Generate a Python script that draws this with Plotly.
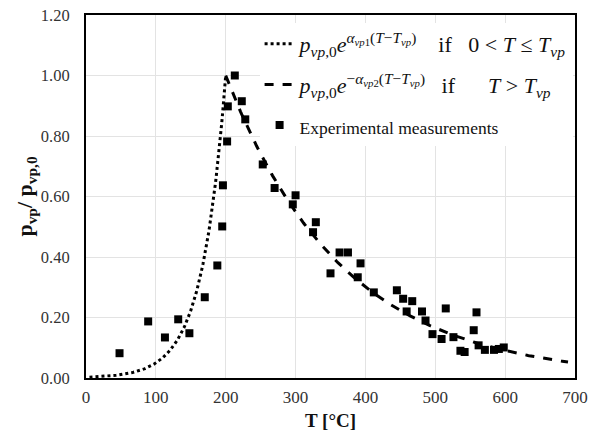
import numpy as np
import plotly.graph_objects as go

# Experimental measurements (T in °C, normalized p_vp/p_vp,0)
exp_T = [48, 89, 113, 132, 148, 170, 188, 195, 196, 202, 203, 213, 223, 228,
         253, 270, 296, 300, 325, 329, 350, 363, 375, 389, 393, 412, 445, 454,
         459, 467, 481, 486, 496, 509, 515, 526, 536, 542, 555, 559, 562, 571,
         584, 591, 598]
exp_P = [0.082, 0.187, 0.134, 0.194, 0.148, 0.267, 0.372, 0.501, 0.637, 0.782,
         0.898, 1.00, 0.915, 0.855, 0.706, 0.628, 0.574, 0.604, 0.482, 0.515,
         0.346, 0.415, 0.415, 0.333, 0.379, 0.283, 0.290, 0.262, 0.220, 0.254,
         0.220, 0.190, 0.145, 0.129, 0.230, 0.135, 0.090, 0.086, 0.158, 0.217,
         0.108, 0.093, 0.093, 0.096, 0.101]

# Model parameters
T_vp = 200.0
alpha_vp1 = 0.030
alpha_vp2 = 0.006

x_ticks = [0, 100, 200, 300, 400, 500, 600, 700]
y_ticks = [0.0, 0.2, 0.4, 0.6, 0.8, 1.0, 1.2]

T1 = np.linspace(5, T_vp, 200)
P1 = np.exp(alpha_vp1 * (T1 - T_vp))
T2 = np.linspace(T_vp, 690, 300)
P2 = np.exp(-alpha_vp2 * (T2 - T_vp))

FONT = "Liberation Serif"

name1 = ("<i>p</i><sub><i>vp</i>,0</sub><i>e</i><sup><i>α</i><sub><i>vp</i>1</sub>"
         "(<i>T</i>−<i>T</i><sub><i>vp</i></sub>)</sup>"
         "&nbsp;&nbsp;&nbsp;&nbsp;if&nbsp;&nbsp;&nbsp;0 &lt; <i>T</i> ≤ <i>T</i><sub><i>vp</i></sub>")
name2 = ("<i>p</i><sub><i>vp</i>,0</sub><i>e</i><sup>−<i>α</i><sub><i>vp</i>2</sub>"
         "(<i>T</i>−<i>T</i><sub><i>vp</i></sub>)</sup>"
         "&nbsp;&nbsp;&nbsp;if&nbsp;&nbsp;&nbsp;&nbsp;&nbsp;&nbsp;<i>T</i> &gt; <i>T</i><sub><i>vp</i></sub>")

fig = go.Figure()
fig.add_trace(go.Scatter(x=T1, y=P1, mode="lines", name=name1, legendgroup="a",
                         line=dict(color="black", width=3, dash="dot")))
fig.add_trace(go.Scatter(x=T2, y=P2, mode="lines", name=name2, legendgroup="b",
                         line=dict(color="black", width=3, dash="dash")))
fig.add_trace(go.Scatter(x=exp_T, y=exp_P, mode="markers", legendgroup="c",
                         name="<span style='font-size:17.5px'>Experimental measurements</span>",
                         marker=dict(symbol="square", size=8, color="black")))

# page body has an 8px default margin, so the figure is sized to fit the window
fig.update_layout(
    width=595, height=432,
    margin=dict(l=78, r=28, t=7, b=62),
    paper_bgcolor="white", plot_bgcolor="white",
    font=dict(family=FONT, color="#222222", size=14),
    showlegend=True,
    legend=dict(x=0.355, y=0.978, xanchor="left", yanchor="top",
                bgcolor="rgba(255,255,255,1)", borderwidth=0,
                font=dict(family=FONT, size=22, color="#111111"),
                itemwidth=30, tracegroupgap=9),
    xaxis=dict(range=[0, 700], tickvals=x_ticks, ticktext=[str(v) for v in x_ticks],
               showgrid=True, gridcolor="#e3e3e3", gridwidth=1,
               showline=True, linecolor="black", linewidth=2, mirror=True,
               ticks="", zeroline=False, automargin=False, ticklabelstandoff=3,
               ticklabeloverflow="allow",
               tickfont=dict(family=FONT, size=17, color="#333333"),
               title=dict(text="<b>T [°C]</b>", font=dict(family=FONT, size=19, color="#111111"),
                          standoff=7)),
    yaxis=dict(range=[0, 1.2], tickvals=y_ticks, ticktext=[f"{v:.2f}" for v in y_ticks],
               showgrid=True, gridcolor="#e3e3e3", gridwidth=1,
               showline=True, linecolor="black", linewidth=2, mirror=True,
               ticks="", zeroline=False, automargin=False, ticklabelstandoff=11,
               ticklabeloverflow="allow",
               tickfont=dict(family=FONT, size=16.5, color="#333333"),
               title=dict(text="<b>p<sub>vp</sub>/ p<sub>vp,0</sub></b>",
                          font=dict(family=FONT, size=22, color="#111111"), standoff=2)),
)

fig.write_html("out.html")
